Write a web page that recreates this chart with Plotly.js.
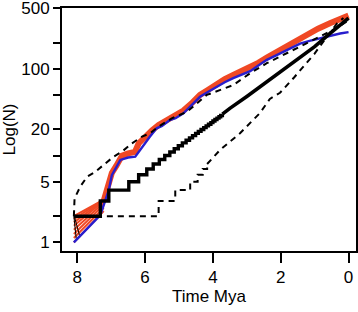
<!DOCTYPE html>
<html><head><meta charset="utf-8">
<script src="https://cdn.plot.ly/plotly-3.0.1.min.js"></script>
<style>html,body{margin:0;padding:0;background:#fff}#c{width:358px;height:312px}</style>
</head><body><div id="c"></div>
<script>
// ---- data ----
const blueX = [8.1, 7.32, 7.07, 6.98, 6.73, 6.5, 6.29, 6.09, 5.86, 5.66, 5.5, 5.27, 5.1, 4.87, 4.6, 4.38, 4.15, 3.89, 3.65, 3.4, 3.15, 2.9, 2.65, 2.41, 2.15, 1.92, 1.67, 1.43, 1.15, 0.9, 0.55, 0.25, 0.0];
const blueY = [1, 2.06, 4.0, 5.96, 8.9, 9.5, 9.7, 12.6, 16.5, 20.6, 22, 25.7, 27, 30.7, 39, 47.6, 54, 62.5, 70, 78, 86, 94, 110, 127, 142, 158, 176, 195, 210, 222, 240, 255, 265];

const orangeX = [7.22, 7.1, 6.98, 6.85, 6.68, 6.5, 6.3, 6.19, 6.0, 5.8, 5.6, 5.35, 5.1, 4.87, 4.6, 4.38, 4.15, 3.89, 3.65, 3.4, 3.15, 2.9, 2.65, 2.41, 2.15, 1.92, 1.67, 1.43, 1.2, 0.9, 0.55, 0.3, 0.0];
const orangeY = [3.0, 4.2, 6.3, 7.6, 10.0, 10.6, 11.0, 13.8, 16.5, 19.5, 22.5, 26, 30, 33, 41, 50, 57, 67, 76, 85, 94, 103, 118, 135, 154, 175, 198, 225, 255, 290, 335, 370, 410];

const fanStartY = [1.0, 1.12, 1.25, 1.4, 1.55, 1.7, 1.85, 2.0];
const fanEndY   = [2.3, 2.5, 2.7, 2.85, 3.0, 3.05, 3.1, 3.1];
const fanX = [8.1, 7.22];

const stepX = [8.1, 7.32, 7.07, 6.48, 6.19, 5.95, 5.76, 5.58, 5.42, 5.27, 5.14, 5.02, 4.9, 4.79, 4.69, 4.6, 4.51, 4.43, 4.35, 4.27, 4.2, 4.13, 4.06, 4.0, 3.94, 3.88, 3.82, 3.77, 3.72];
const stepN = [2, 3, 4, 5, 6, 7, 8, 9, 10, 11, 12, 13, 14, 15, 16, 17, 18, 19, 20, 21, 22, 23, 24, 25, 26, 27, 28, 29, 30];
const smoothX = [3.72, 3.5, 3.0, 2.5, 2.0, 1.5, 1.0, 0.5, 0.0];
const smoothN = [30, 35, 48, 67, 93, 128, 180, 265, 385];

const lowStepX = [8.1, 5.6, 5.11, 4.67, 4.45, 4.3, 4.17];
const lowStepN = [2, 3, 4, 5, 6, 7, 8];
const lowX = [4.17, 3.79, 3.2, 2.61, 2.32, 2.02, 1.6, 1.33, 1.0, 0.69, 0.35, 0.15];
const lowN = [8, 11.6, 18.1, 31, 45, 53, 80, 106, 150, 220, 330, 385];

const upX = [8.1, 8.08, 7.91, 7.71, 7.47, 7.22, 6.93, 6.68, 6.39, 6.09, 5.85, 5.6, 5.2, 4.76, 4.18, 3.4, 2.9, 2.41, 1.92, 1.53, 1.2, 0.84, 0.35, 0.0];
const upN = [2, 3.2, 4.4, 5.7, 6.5, 7.8, 9.7, 11.1, 13.8, 16.5, 18.1, 21.6, 27, 32, 50, 65, 89, 116, 144, 172, 200, 235, 294, 363];

const blackFanX = [[8.1, 8.03], [8.08, 7.92]];
const blackFanY = [[2.0, 1.1], [1.95, 1.15]];

const yTickVals = [1, 2, 5, 10, 20, 50, 100, 200, 500];
const yTickText = ['1', '', '5', '', '20', '', '100', '', '500'];
const xTickVals = [0, 2, 4, 6, 8];

// ---- traces ----
const ORANGE = 'rgb(240,72,36)';
const BLUE = 'rgb(40,30,205)';
const traces = [];
for (let i = 0; i < fanStartY.length; i++) {
  traces.push({x: fanX, y: [fanStartY[i], fanEndY[i]], mode: 'lines', line: {color: ORANGE, width: 2}, hoverinfo: 'skip'});
}
traces.push({x: orangeX, y: orangeY, mode: 'lines', line: {color: ORANGE, width: 6}});
for (let i = 0; i < blackFanX.length; i++) {
  traces.push({x: blackFanX[i], y: blackFanY[i], mode: 'lines', line: {color: 'black', width: 1}});
}
traces.push({x: blueX, y: blueY, mode: 'lines', line: {color: BLUE, width: 2.4}});
traces.push({x: lowStepX, y: lowStepN, mode: 'lines', line: {color: 'black', width: 2, dash: '6px,5px', shape: 'hv'}});
traces.push({x: lowX, y: lowN, mode: 'lines', line: {color: 'black', width: 2, dash: '6px,5px'}});
traces.push({x: upX, y: upN, mode: 'lines', line: {color: 'black', width: 2, dash: '6px,5px'}});
traces.push({x: stepX, y: stepN, mode: 'lines', line: {color: 'black', width: 3.4, shape: 'hv'}});
traces.push({x: smoothX, y: smoothN, mode: 'lines', line: {color: 'black', width: 3.6}});

const FONT = 'Liberation Sans, Arial, sans-serif';
const layout = {
  width: 358, height: 312,
  margin: {l: 62, r: 2, t: 8, b: 61},
  showlegend: false,
  paper_bgcolor: 'white', plot_bgcolor: 'white',
  font: {family: FONT, size: 17, color: 'black'},
  xaxis: {
    range: [8.45, -0.22], tickvals: xTickVals, ticks: 'outside', ticklen: 10, tickwidth: 2, tickcolor: 'black',
    showline: true, mirror: true, linecolor: 'black', linewidth: 2, showgrid: false, zeroline: false,
    tickfont: {size: 17}, title: {text: 'Time Mya', font: {size: 17}, standoff: 4}
  },
  yaxis: {
    type: 'log', range: [-0.1, Math.log10(500) + 0.002], tickvals: yTickVals, ticktext: yTickText,
    ticks: 'outside', ticklen: 7, tickwidth: 2, tickcolor: 'black', ticklabeloverflow: 'allow',
    showline: true, mirror: true, linecolor: 'black', linewidth: 2, showgrid: false, zeroline: false,
    tickfont: {size: 17}, title: {text: 'Log(N)', font: {size: 17}, standoff: 4}
  }
};
Plotly.newPlot('c', traces, layout, {staticPlot: true, displayModeBar: false});
</script></body></html>
